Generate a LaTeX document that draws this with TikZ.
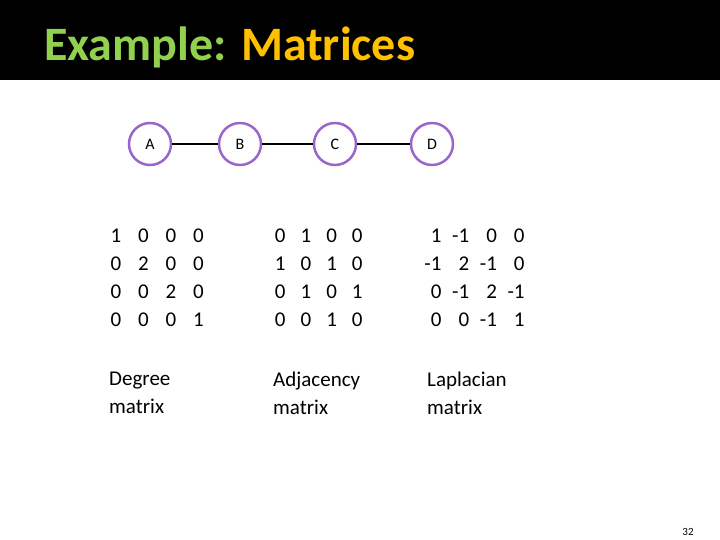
\documentclass[tikz,border=0pt]{standalone}
\usepackage{fontspec}
\setmainfont{Carlito}
\definecolor{tgreen}{HTML}{92D050}
\definecolor{torange}{HTML}{FFC000}
\definecolor{vpurple}{HTML}{9966CC}
\begin{document}
\begin{tikzpicture}[x=1pt,y=-1pt,
  vert/.style={circle,draw=vpurple,line width=2.5pt,fill=white,minimum size=42pt,inner sep=0pt,font=\fontsize{16}{19}\selectfont},
  ent/.style={anchor=base east,font=\fontsize{21}{25}\selectfont,inner sep=0pt},
  lab/.style={anchor=north west,align=left,font=\fontsize{21}{28}\selectfont,inner sep=0pt}]
\useasboundingbox (0,0) rectangle (720,540);
\fill[black] (0,0) rectangle (720,80);
\node[anchor=west,inner sep=0pt,font=\bfseries\fontsize{48}{56}\selectfont] (title) at (44,47)
  {\textcolor{tgreen}{Example:} \textcolor{torange}{Matrices}};
\node[vert] (A) at (150,144) {A};
\node[vert] (B) at (240,144) {B};
\node[vert] (C) at (335,144) {C};
\node[vert] (D) at (432,144) {D};
\draw[line width=1.5pt] (A) -- (B);
\draw[line width=1.5pt] (B) -- (C);
\draw[line width=1.5pt] (C) -- (D);
\foreach \r [count=\i] in {{1,0,0,0},{0,2,0,0},{0,0,2,0},{0,0,0,1}}{
  \foreach \v [count=\j] in \r {
    \pgfmathsetmacro{\xx}{94+27.5*\j}
    \node[ent] (d\i\j) at (\xx,{214+28*\i}) {\v};
  }}
\foreach \r [count=\i] in {{0,1,0,0},{1,0,1,0},{0,1,0,1},{0,0,1,0}}{
  \foreach \v [count=\j] in \r {
    \pgfmathsetmacro{\xx}{260+25.7*\j}
    \node[ent] (a\i\j) at (\xx,{214+28*\i}) {\v};
  }}
\foreach \r [count=\i] in {{1,-1,0,0},{-1,2,-1,0},{0,-1,2,-1},{0,0,-1,1}}{
  \foreach \v [count=\j] in \r {
    \pgfmathsetmacro{\xx}{414+27.7*\j}
    \node[ent] (l\i\j) at (\xx,{214+28*\i}) {\ifnum\v<0 -\the\numexpr-\v\relax\else\v\fi};
  }}
\node[lab] (dl) at (109,372) {Degree\\matrix};
\node[lab] (al) at (273,372) {Adjacency\\matrix};
\node[lab] (ll) at (427,372) {Laplacian\\matrix};
\node[font=\fontsize{11}{13}\selectfont] (pg) at (688,532) {32};
\end{tikzpicture}
\end{document}
